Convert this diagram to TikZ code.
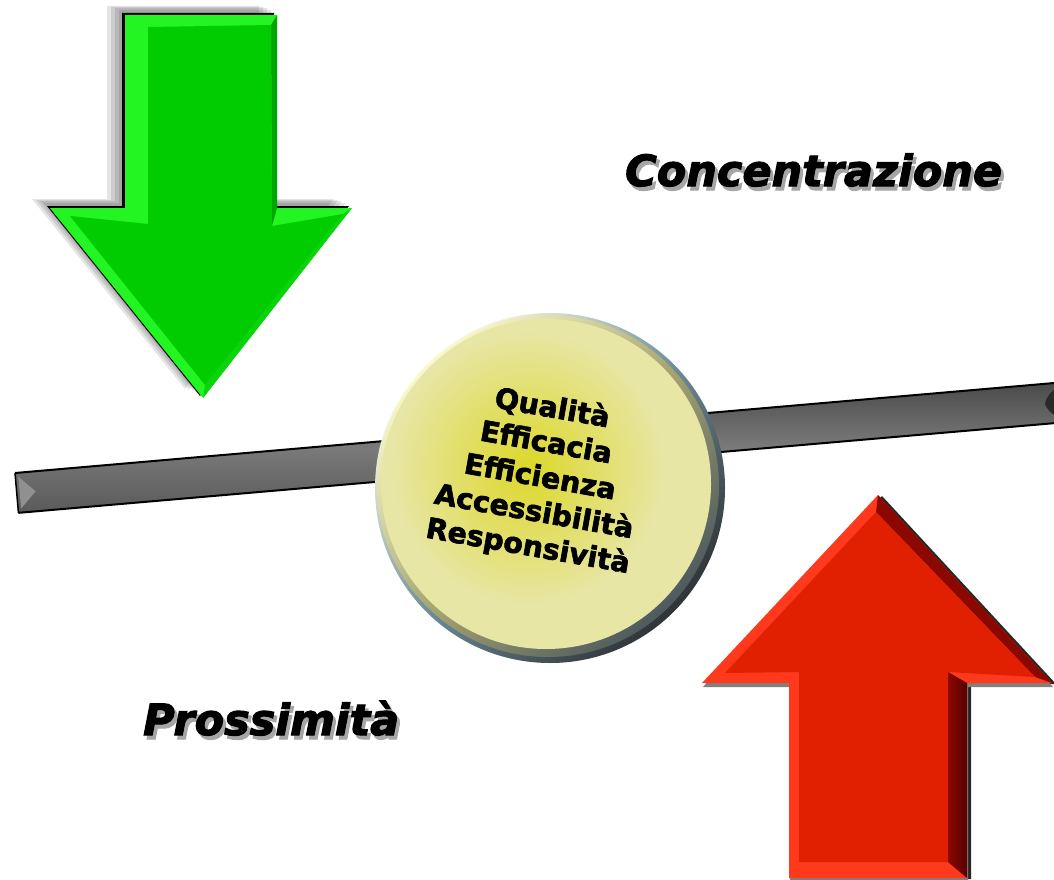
\documentclass[tikz,border=0pt]{standalone}
\usepackage{fontspec}
\newfontfamily\heavyfont{DejaVu Sans}[BoldFeatures={FakeBold=2.2}, BoldItalicFeatures={FakeBold=2.6}]
\usetikzlibrary{fadings}

\definecolor{greenface}{HTML}{00CC00}
\definecolor{greenlight}{HTML}{22F522}
\definecolor{greendark}{HTML}{00A600}
\definecolor{greenmid}{HTML}{0CD40C}
\definecolor{redface}{HTML}{E02000}
\definecolor{redlight}{HTML}{FF3A1C}
\definecolor{reddark}{HTML}{8A0800}
\definecolor{reddeep}{HTML}{560000}
\definecolor{bartop}{HTML}{4A4A4A}
\definecolor{barmid}{HTML}{7A7A7A}
\definecolor{barbottom}{HTML}{5A5A5A}
\definecolor{barlight}{HTML}{909090}
\definecolor{bardark}{HTML}{2A2A2A}
\definecolor{rimlight}{HTML}{FFFFE4}
\definecolor{rimblue}{HTML}{6E8E98}
\definecolor{rimdark}{HTML}{303438}
\definecolor{bandlight}{HTML}{F8F8CC}
\definecolor{bandolive}{HTML}{A8A672}
\definecolor{bandgrey}{HTML}{4E5A5E}
\definecolor{discpale}{HTML}{E8E6A4}
\definecolor{discglow}{HTML}{DCD82A}

\tikzfading[name=glowfade, inner color=transparent!0, outer color=transparent!100]

\tikzset{
  labeltext/.style={font=\heavyfont\bfseries\itshape\fontsize{43}{50}\selectfont,
    inner sep=0pt, anchor=base west},
  labelshadow/.style={labeltext, text=gray!70},
  valuetext/.style={font=\heavyfont\bfseries\fontsize{28.5}{35}\selectfont,
    align=center, rotate=-10, inner sep=0pt}
}

\begin{document}
\begin{tikzpicture}[x=1pt, y=-1pt]
  \useasboundingbox (0,0) rectangle (1054,880);
  \clip (0,0) rectangle (1054,880);
  \fill[white] (0,0) rectangle (1054,880);

  % the beam
  \begin{scope}[shift={(15,473)}, rotate=4.95]
    \shade[top color=bartop, bottom color=barbottom, middle color=barmid]
          (0,0) rectangle (1060,40);
    \fill[barlight] (3,4) -- (19,20) -- (3,36) -- cycle;
    \fill[bardark] (1032,20) .. controls (1036,8) and (1046,3) .. (1060,3)
          -- (1060,37) .. controls (1046,37) and (1036,32) .. (1032,20) -- cycle;
    \draw[black, line width=2pt] (0,0) -- (1060,0) (0,40) -- (1060,40);
    \draw[black, line width=1.5pt] (0,0) -- (0,40);
  \end{scope}

  % the hub
  \coordinate (hub) at (550,488);
  \shade[top color=rimlight, bottom color=rimdark, middle color=rimblue, shading angle=45]
        (hub) circle (175);
  \shade[top color=bandlight, bottom color=bandgrey, middle color=bandolive, shading angle=45]
        ([shift={(-2,-2)}]hub) circle (171);
  \fill[discpale] ([shift={(-4,-4)}]hub) circle (165);
  \fill[discglow, path fading=glowfade] (528,468) circle (135);
  \node[valuetext] (values) at (540,478)
        {Qualità\\Efficacia\\Efficienza\\Accessibilità\\Responsività};

  % green arrow, pointing down
  \foreach \dx/\dy in {-6/-5, -10/-7, -14/-8, -18/-9}
    \fill[black, opacity=0.1, shift={(\dx,\dy)}]
          (125,15) -- (277,15) -- (277,208) -- (352,208) -- (203,398)
          -- (50,208) -- (125,208) -- cycle;
  \fill[black, shift={(-3,-2)}]
        (125,15) -- (277,15) -- (277,208) -- (352,208) -- (203,398)
        -- (50,208) -- (125,208) -- cycle;
  \fill[greenlight]
        (125,15) -- (277,15) -- (277,208) -- (352,208) -- (203,398)
        -- (50,208) -- (125,208) -- cycle;
  \fill[greendark] (277,15) -- (277,208) -- (272,226) -- (271,25) -- cycle;
  \fill[greenmid] (352,208) -- (203,398) -- (205,385) -- (343,214) -- cycle;
  \fill[greenface]
        (148,27) -- (271,25) -- (272,226) -- (343,214) -- (205,385)
        -- (70,216) -- (148,224) -- cycle;

  % red arrow, pointing up
  \fill[black!85, shift={(4,1)}]
        (878,495) -- (1052,683) -- (967,683) -- (967,878) -- (789,878)
        -- (789,683) -- (702,683) -- cycle;
  \fill[gray, shift={(1,4)}]
        (878,495) -- (1052,683) -- (967,683) -- (967,878) -- (789,878)
        -- (789,683) -- (702,683) -- cycle;
  \fill[redlight]
        (878,495) -- (1052,683) -- (967,683) -- (967,878) -- (789,878)
        -- (789,683) -- (702,683) -- cycle;
  \fill[reddark] (878,495) -- (1052,683) -- (1035,677) -- (876,512) -- cycle;
  \shade[left color=reddark, right color=reddeep]
        (967,683) -- (967,878) -- (948,862) -- (948,672) -- cycle;
  \fill[redface]
        (876,512) -- (1035,677) -- (948,672) -- (948,862) -- (799,862)
        -- (799,672) -- (725,673) -- cycle;

  % labels
  \node[labelshadow] (concentrshadow) at (628,190) {Concentrazione};
  \node[labeltext] (concentr) at (625,186) {Concentrazione};
  \node[labelshadow] (prossimshadow) at (146,739) {Prossimità};
  \node[labeltext] (prossim) at (143,735) {Prossimità};
\end{tikzpicture}
\end{document}
